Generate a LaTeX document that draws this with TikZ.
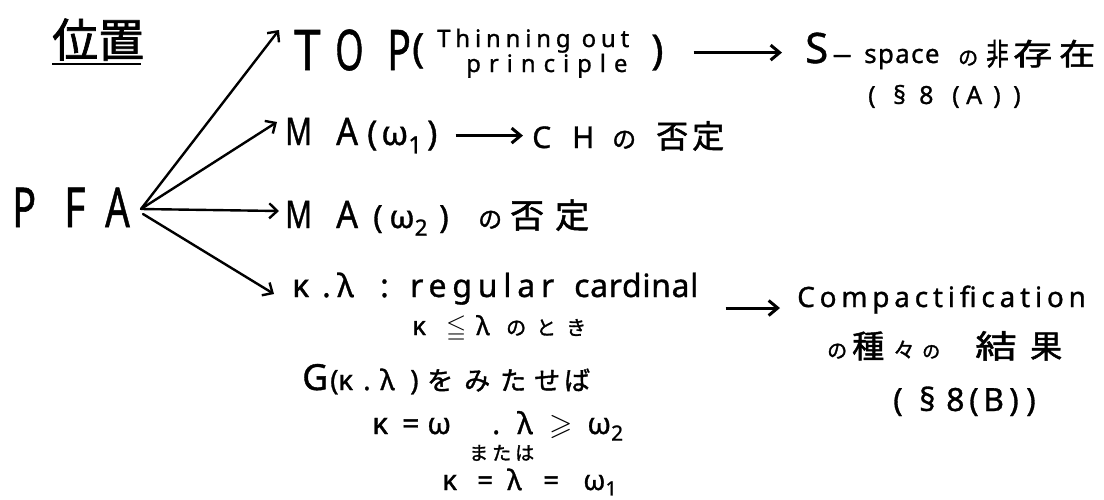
\documentclass[tikz,border=0pt]{standalone}
\usepackage{fontspec}
\usepackage{amssymb}
\usepackage{graphicx}
\setmainfont{Noto Sans}[FakeBold=1]
\newfontfamily\jp{Noto Sans CJK JP}[FakeBold=1.5]
\usetikzlibrary{arrows.meta,calc}
\newcommand\fs[1]{\fontsize{#1}{#1}\selectfont}
\newcommand\mb[2]{\makebox[#1pt][l]{#2}}
\newcommand\sx[2]{\scalebox{#1}[1]{#2}}
\newcommand\ls[1]{\addfontfeatures{LetterSpace=#1}}
\begin{document}
\begin{tikzpicture}[x=1pt,y=-1pt,
  txt/.style={inner sep=0pt, anchor=base west, text=black},
  arr/.style={line width=2.4pt, line cap=round, -{Straight Barb[length=8pt,width=15pt]}},
  harr/.style={line width=3pt, -{Straight Barb[length=9pt,width=15pt]}}]
\useasboundingbox[fill=white] (0,0) rectangle (1104,499);
% title
\node[txt] (pos) at (52,57) {\jp\fs{46}位置};
\draw[line width=2.5pt] ($(pos.base west)+(0,7)$) -- ($(pos.base east)+(-3,7)$);
% PFA
\node[txt] (pfa) at (12,227) {\fs{55}\mb{52}{\sx{0.72}{P}}\mb{41}{\sx{0.75}{F}}\sx{0.7}{A}};
% row 1
\node[txt] (top) at (294,70) {\fs{56}\mb{41}{\sx{0.85}{T}}\mb{52}{\sx{0.65}{O}}\sx{0.7}{P}};
\node[txt] (lp1) at (412,62) {\fs{40}(};
\node[txt] (th1) at (437,47) {\fs{24}\ls{20}Thinning out};
\node[txt] (th2) at (466,72) {\fs{24}\ls{33}principle};
\node[txt] (rp1) at (651,64) {\fs{41})};
\node[txt] (s1) at (805,63) {\fs{42}S};
\node[txt] (s2) at (831,63) {\fs{26}\mb{33}{\sx{2.6}{-}}\ls{5}space};
\node[txt] (s3) at (958,65) {\jp\mb{28}{\fs{20}の}\mb{27}{\fs{30}\sx{0.75}{非}}\mb{46}{\fs{30}\sx{1.3}{存}}\fs{30}\sx{1.2}{在}};
\node[txt] (sec1) at (868,104) {\fs{25}\mb{25}{(}\mb{26}{§}\mb{33}{8}\mb{14}{(}\mb{27}{A}\mb{20}{)})};
\draw[harr, shorten <=30pt, shorten >=23pt] (rp1.east) -- (rp1.east -| s1.west);
% row 2
\node[txt] (ma1) at (285,145) {\fs{38}\mb{51}{\sx{0.78}{M}}\mb{31}{\sx{0.9}{A}}\fs{34}\mb{14}{(}\mb{46}{ω\textsubscript{1}})};
\node[txt] (ch) at (532,148) {\fs{30}\mb{40}{C}\mb{40}{H}\jp\mb{44}{\fs{24}の}\mb{36}{\fs{32}否}\fs{32}定};
\draw[harr, shorten <=18pt, shorten >=9pt] (ma1.east) -- (ma1.east -| ch.west);
% row 3
\node[txt] (ma2) at (285,228) {\fs{38}\mb{51}{\sx{0.78}{M}}\mb{37}{\sx{0.9}{A}}\fs{32}\mb{16}{(}\mb{50}{ω\textsubscript{2}}\mb{39}{)}\jp\mb{32}{\fs{24}の}\mb{45}{\fs{34}否}\fs{34}定};
% row 4
\node[txt] (k1) at (292,297) {\fs{32}\mb{30}{κ}\mb{15}{.}\mb{43}{λ}\mb{30}{:}\mb{164}{\ls{18}regular}\ls{2}cardinal};
\node[txt] (comp) at (797,307) {\fs{28}\ls{17}Compactification};
\draw[harr] ($(k1.base east)+(27,11)$) -- ($(comp.base west)+(-17,1)$);
\node[txt] (res) at (827,358) {\jp\mb{25}{\fs{20}の}\mb{41}{\fs{32}種}\mb{29}{\fs{22}々}\mb{53}{\fs{18}の}\mb{55}{\fs{32}\sx{1.3}{結}}\fs{32}果};
\node[txt] (sec2) at (893,411) {\fs{32}\mb{26}{(}\mb{27}{§}\mb{23}{8}\mb{14}{(}\mb{26}{B}\mb{17}{)})};
\node[txt] (k2) at (412,335) {\fs{26}\mb{34}{κ}\mb{30}{$\leqq$}\mb{30}{λ}\jp\fs{20}\mb{30}{の}\mb{30}{と}き};
\node[txt] (k3) at (302,390) {\fs{36}\mb{28}{G}\fs{28}\mb{8}{(}\mb{25}{κ}\mb{17}{.}\mb{30}{λ}\mb{17}{)}\jp\fs{26}\mb{37}{を}\mb{36}{み}\mb{34}{た}\mb{30}{せ}ば};
\node[txt] (k4) at (372,434) {\fs{30}\mb{30}{κ}\mb{25}{=}\mb{65}{ω}\mb{25}{.}\mb{32}{λ}\mb{38}{$\geqslant$}ω\textsubscript{2}};
\node[txt] (k5) at (469,460) {\jp\fs{19}\mb{23}{ま}\mb{23}{た}は};
\node[txt] (k6) at (442,490) {\fs{28}\mb{35}{κ}\mb{30}{=}\mb{36}{λ}\mb{40}{=}ω\textsubscript{1}};
% arrows from PFA
\coordinate (o) at ($(pfa.base west)+(129,-18)$);
\draw[arr] (o) -- ($(top.base west)+(-15,-40)$);
\draw[arr] (o) -- ($(ma1.base west)+(-8,-23)$);
\draw[arr] (o) -- ($(ma2.base west)+(-6,-17)$);
\draw[arr] ($(o)+(2,5)$) -- ($(k1.base west)+(-18,-3)$);
\end{tikzpicture}
\end{document}
